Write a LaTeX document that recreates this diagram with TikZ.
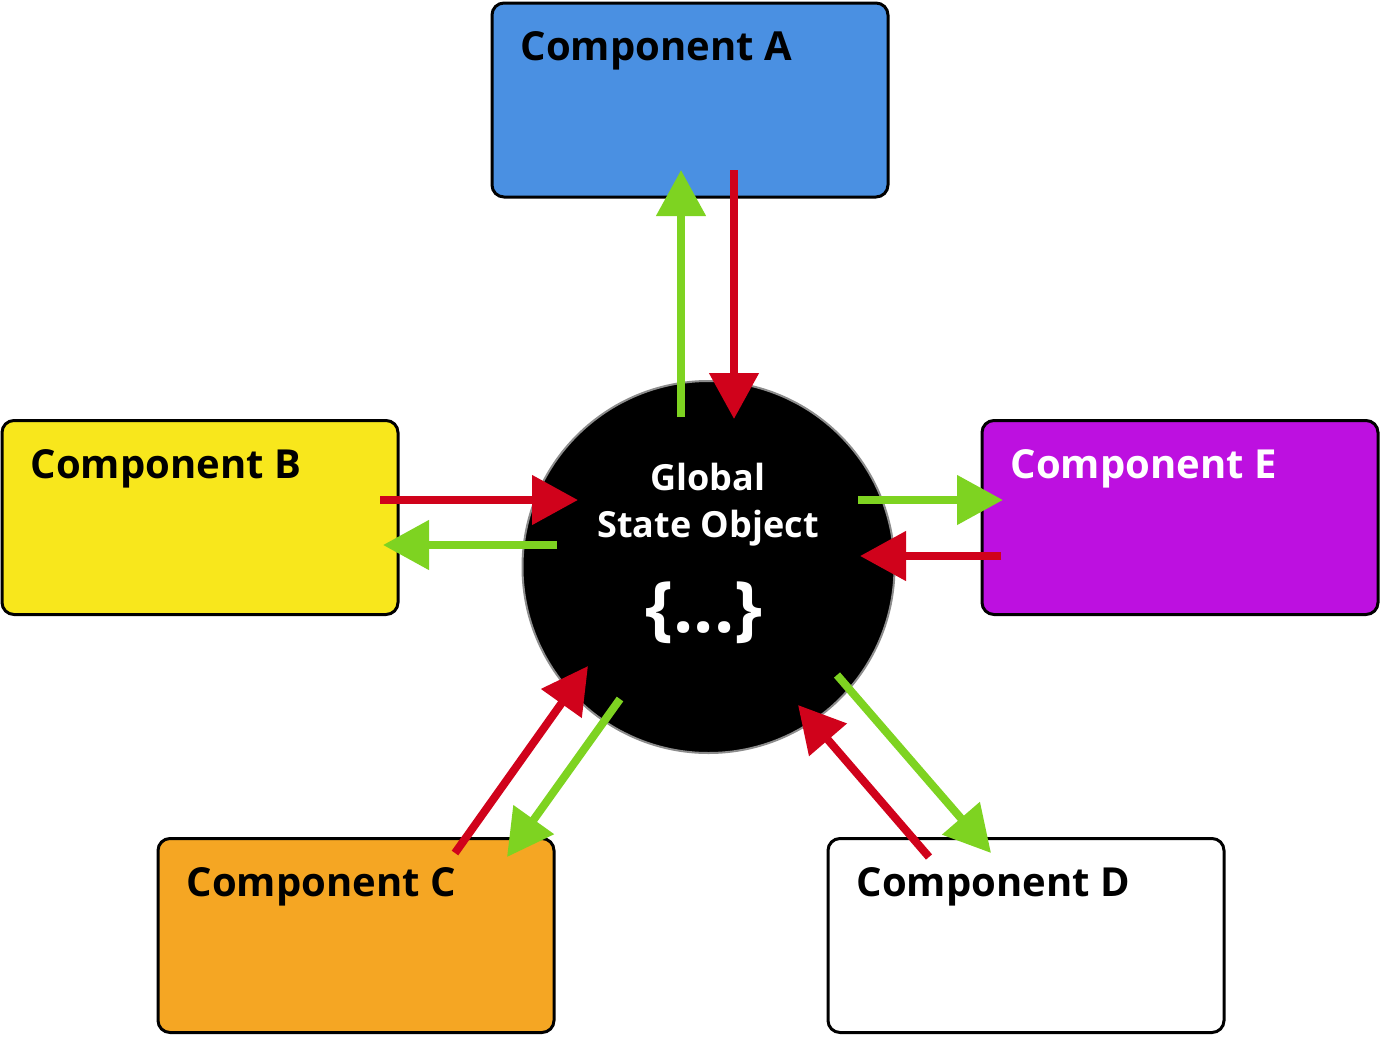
\documentclass[tikz,border=0pt]{standalone}
\usepackage{fontspec}
\setmainfont{Open Sans}[BoldFont={* Bold}]
\usetikzlibrary{arrows.meta}
\definecolor{cA}{HTML}{4A90E2}
\definecolor{cB}{HTML}{F8E71C}
\definecolor{cC}{HTML}{F5A623}
\definecolor{cE}{HTML}{BD10E0}
\definecolor{gr}{HTML}{7ED321}
\definecolor{rd}{HTML}{D0021B}
\tikzset{
  comp/.style={draw=black,line width=3pt,rounded corners=12pt,minimum width=396pt,minimum height=194pt,inner sep=0pt},
  clabel/.style={anchor=base west,inner sep=0pt,font=\fontsize{40}{48}\selectfont\bfseries},
  flow/.style={line width=8pt,-{Triangle[length=46pt,width=48pt]}},
  gflow/.style={flow,draw=gr},
  rflow/.style={flow,draw=rd},
  ctext/.style={text=white,inner sep=0pt,font=\fontsize{36}{48}\selectfont\bfseries}
}
\begin{document}
\begin{tikzpicture}[x=1pt,y=-1pt]
\useasboundingbox (0,0) rectangle (1380,1036);
% components
\node[comp,fill=cA] (A) at (690,100) {};
\node[comp,fill=cB] (B) at (200,517.5) {};
\node[comp,fill=cC] (C) at (356,935.5) {};
\node[comp,fill=white] (D) at (1026,935.5) {};
\node[comp,fill=cE] (E) at (1180,517.5) {};
\node[clabel] (lA) at ([xshift=30pt,yshift=-59pt]A.north west) {Component A};
\node[clabel] (lB) at ([xshift=30pt,yshift=-59pt]B.north west) {Component B};
\node[clabel] (lC) at ([xshift=30pt,yshift=-59pt]C.north west) {Component C};
\node[clabel] (lD) at ([xshift=30pt,yshift=-59pt]D.north west) {Component D};
\node[clabel,text=white] (lE) at ([xshift=30pt,yshift=-59pt]E.north west) {Component E};
% global state
\node[circle,fill=black,draw=black!45,line width=2pt,minimum size=372pt,inner sep=0pt] (G) at (708.5,567) {};
\node[ctext,anchor=base] (g1) at (708,490) {Global};
\node[ctext,anchor=base] (g2) at (708,537) {State Object};
\node[ctext,anchor=base,font=\fontsize{71}{80}\selectfont\bfseries] (g3) at (704,632) {\{...\}};
% connector end points
\coordinate (a1) at (681,417); \coordinate (a2) at (681,170);
\coordinate (a3) at (734,170); \coordinate (a4) at (734,419);
\coordinate (b1) at (380,500); \coordinate (b2) at (578,500);
\coordinate (b3) at (557,545); \coordinate (b4) at (383,545);
\coordinate (e1) at (858,500); \coordinate (e2) at (1003,500);
\coordinate (e3) at (1001,556); \coordinate (e4) at (860,556);
\coordinate (c1) at (455,853); \coordinate (c2) at (588,666);
\coordinate (c3) at (620,699); \coordinate (c4) at (507,857);
\coordinate (d1) at (837,675); \coordinate (d2) at (991,853);
\coordinate (d3) at (929,857); \coordinate (d4) at (798,705);
% connectors
\draw[gflow] (a1) -- (a2);
\draw[rflow] (a3) -- (a4);
\draw[rflow] (b1) -- (b2);
\draw[gflow] (b3) -- (b4);
\draw[gflow] (e1) -- (e2);
\draw[rflow] (e3) -- (e4);
\draw[rflow] (c1) -- (c2);
\draw[gflow] (c3) -- (c4);
\draw[gflow] (d1) -- (d2);
\draw[rflow] (d3) -- (d4);
\end{tikzpicture}
\end{document}
